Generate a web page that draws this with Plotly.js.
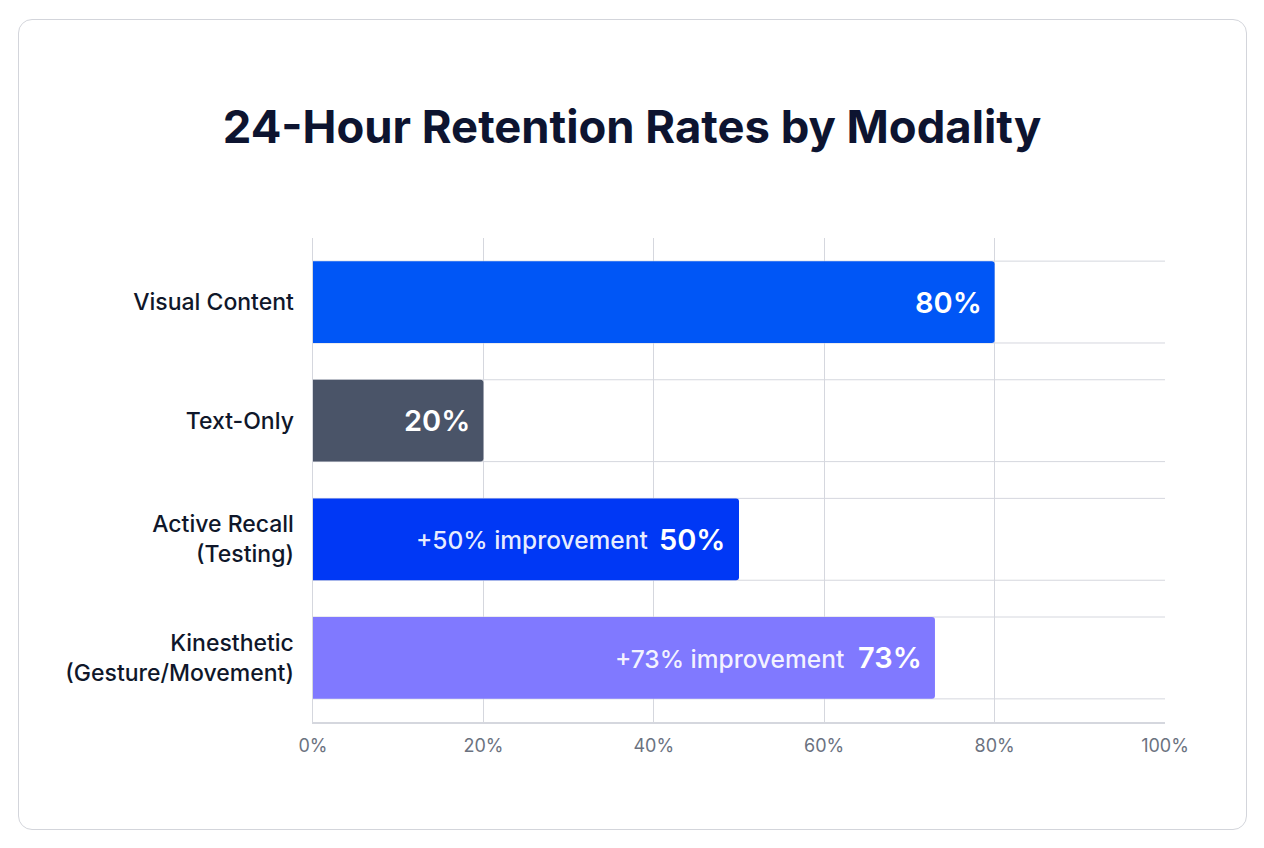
<!DOCTYPE html>
<html>
<head>
<meta charset="utf-8">
<script src="https://cdn.plot.ly/plotly-3.0.1.min.js"></script>
<style>
html,body{margin:0;padding:0;background:#fff;width:1264px;height:848px;overflow:hidden}
#card{position:absolute;left:18px;top:19px;width:1229px;height:811px;border:1.5px solid #d3d5db;border-radius:14px;background:#fff;box-sizing:border-box}
#chart{position:absolute;left:0;top:0;width:1264px;height:848px}
</style>
</head>
<body>
<div id="card"></div>
<div id="chart"></div>
<script>
const categories = ['Visual Content', 'Text-Only', 'Active Recall<br>(Testing)', 'Kinesthetic<br>(Gesture/Movement)'];
const values = [80, 20, 50, 73];
const valueLabels = ['80%', '20%', '50%', '73%'];
const notes = ['', '', '+50% improvement', '+73% improvement'];
const colors = ['#0056f6', '#4a5468', '#0038f5', '#8079ff'];
const xTicks = [0, 20, 40, 60, 80, 100];
const xTickLabels = ['0%', '20%', '40%', '60%', '80%', '100%'];
const barWidth = 0.69;
const gridColor = '#d5d7de';
const fontFamily = 'Inter, "Noto Sans", sans-serif';

const shapes = [];
categories.forEach((c, i) => {
  [i - barWidth / 2, i + barWidth / 2].forEach(y => shapes.push({
    type: 'line', xref: 'paper', yref: 'y', x0: 0, x1: 1, y0: y, y1: y,
    layer: 'below', line: {color: gridColor, width: 1}
  }));
});

const annotations = [];
categories.forEach((c, i) => {
  annotations.push({
    x: values[i], y: c, xref: 'x', yref: 'y', xanchor: 'right', yanchor: 'middle',
    xshift: -11, yshift: 0, showarrow: false, text: valueLabels[i],
    font: {family: fontFamily, size: 29, weight: 600, color: '#ffffff'}
  });
  if (notes[i]) annotations.push({
    x: values[i], y: c, xref: 'x', yref: 'y', xanchor: 'right', yanchor: 'middle',
    xshift: -89, yshift: -1, showarrow: false, text: notes[i],
    font: {family: fontFamily, size: 24.5, weight: 500, color: 'rgba(255,255,255,0.92)'}
  });
});

Plotly.newPlot('chart', [{
  type: 'bar', orientation: 'h', y: categories, x: values, width: barWidth,
  marker: {color: colors, cornerradius: 3, line: {width: 0}},
  hoverinfo: 'skip', cliponaxis: false
}], {
  width: 1264, height: 848,
  paper_bgcolor: 'rgba(0,0,0,0)', plot_bgcolor: 'rgba(0,0,0,0)',
  margin: {l: 313, r: 99, t: 238, b: 126, pad: 0},
  title: {text: '24-Hour Retention Rates by Modality', x: 0.5, xanchor: 'center', xref: 'container', y: 0.85, yref: 'container', yanchor: 'middle',
    font: {family: fontFamily, size: 45.4, weight: 700, color: '#0d1430'}},
  showlegend: false,
  bargap: 0.31,
  xaxis: {range: [0, 100], tickmode: 'array', tickvals: xTicks, ticktext: xTickLabels,
    showgrid: true, gridcolor: gridColor, gridwidth: 1, zeroline: false,
    showline: true, linecolor: gridColor, linewidth: 1.5, ticks: '', ticklabelstandoff: 7,
    tickfont: {family: fontFamily, size: 18, color: '#6b7280'}},
  yaxis: {type: 'category', categoryorder: 'array', categoryarray: categories, range: [3.54, -0.54],
    showgrid: false, zeroline: false, showline: true, linecolor: gridColor, linewidth: 1.5,
    ticks: '', ticklabelstandoff: 13,
    tickfont: {family: fontFamily, size: 23, weight: 500, color: '#0f172a'}},
  shapes: shapes,
  annotations: annotations
}, {displayModeBar: false, staticPlot: true});
</script>
</body>
</html>
